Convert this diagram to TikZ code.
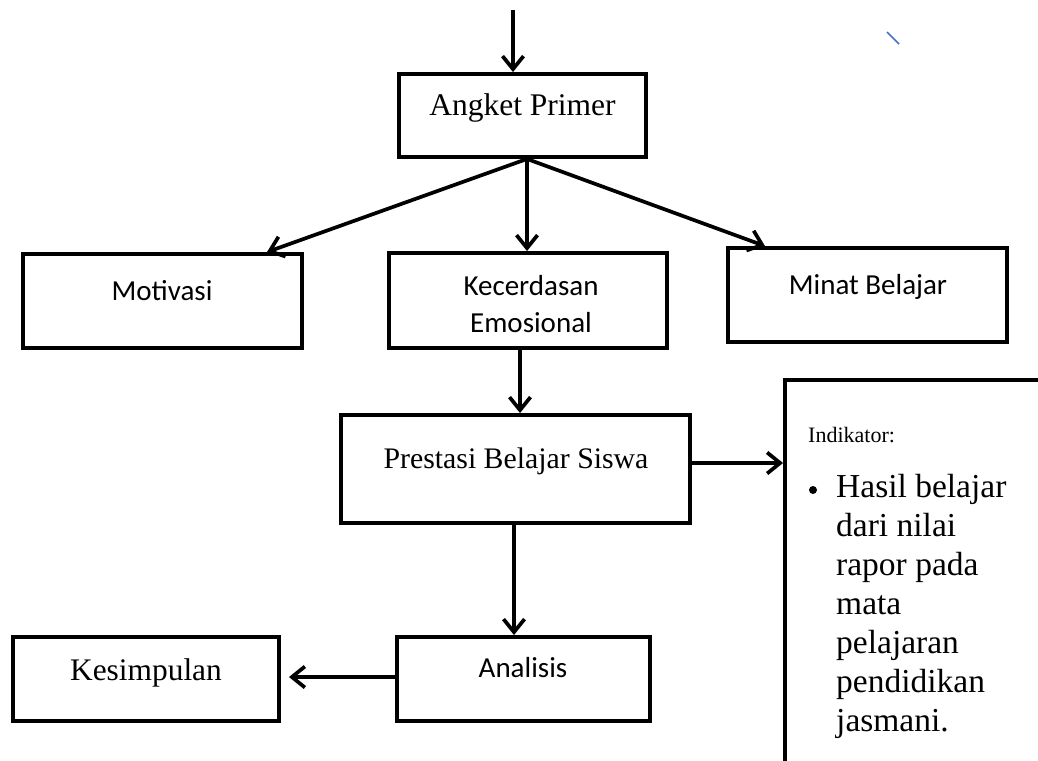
\documentclass[tikz,border=0pt]{standalone}
\usepackage{fontspec}
\setmainfont{Liberation Serif}
\newfontfamily\calibrifont{Carlito}
\usetikzlibrary{arrows.meta}
\definecolor{strayblue}{RGB}{68,114,196}
\begin{document}
\begin{tikzpicture}[x=1pt,y=-1pt,
  box/.style={draw, line width=3.9pt, inner sep=0pt},
  arr/.style={line width=3.7pt, -{Straight Barb[length=13pt,width=21pt]}},
  ser/.style={font=\fontsize{31.5}{37}\selectfont, anchor=base, inner sep=0pt},
  cal/.style={font=\calibrifont\fontsize{29}{35}\selectfont, anchor=base, inner sep=0pt},
  indt/.style={font=\fontsize{33.5}{39}\selectfont, anchor=base west, inner sep=0pt}]
\path[use as bounding box] (0,0) rectangle (1038,760);
\clip (0,0) rectangle (1038,760);

% boxes
\node[box, minimum width=247pt, minimum height=83pt] (ang) at (522.5,115.5) {};
\node[box, minimum width=279pt, minimum height=94pt] (mot) at (162.5,301) {};
\node[box, minimum width=278pt, minimum height=95pt] (kec) at (528,300.5) {};
\node[box, minimum width=279pt, minimum height=94pt] (min) at (867.5,295) {};
\node[box, minimum width=349pt, minimum height=108pt] (pre) at (515.5,469) {};
\node[box, minimum width=253pt, minimum height=84pt] (ana) at (523.5,679) {};
\node[box, minimum width=266pt, minimum height=84pt] (kes) at (146,679) {};
\node[box, minimum width=300pt, minimum height=420pt] (ind) at (935,590) {};

% texts
\node[ser] (tang) at (522.5,115) {Angket Primer};
\node[cal] (tmot) at (162,300) {Motivasi};
\node[cal] (tkec1) at (531,295) {Kecerdasan};
\node[cal] (tkec2) at (531,332) {Emosional};
\node[cal] (tmin) at (868,294) {Minat Belajar};
\node[ser, font=\fontsize{29.8}{35}\selectfont] (tpre) at (516,468) {Prestasi Belajar Siswa};
\node[cal] (tana) at (523,677) {Analisis};
\node[ser, font=\fontsize{31.4}{37}\selectfont] (tkes) at (146,680) {Kesimpulan};
\node[ser, anchor=base west, font=\fontsize{22}{26}\selectfont] (tind) at (808,442) {Indikator:};
\fill (813,490) circle (4pt);
\node[indt] (l1) at (836,497) {Hasil belajar};
\node[indt] (l2) at (836,536) {dari nilai};
\node[indt] (l3) at (836,575) {rapor pada};
\node[indt] (l4) at (836,614) {mata};
\node[indt] (l5) at (836,653) {pelajaran};
\node[indt] (l6) at (836,692) {pendidikan};
\node[indt] (l7) at (836,731) {jasmani.};

% connectors
\coordinate (top) at (513,10);
\draw[arr] (top) -- (top |- ang.north);
\draw[arr] ([xshift=4.5pt]ang.south) -- ([xshift=104.5pt]mot.north);
\draw[arr] ([xshift=4.5pt]ang.south) -- ([xshift=4.5pt]ang.south |- kec.north);
\draw[arr] ([xshift=4.5pt]ang.south) -- ([xshift=-102.5pt]min.north);
\draw[arr] ([xshift=-8pt]kec.south) -- ([xshift=-8pt]kec.south |- pre.north);
\draw[arr] ([yshift=6pt]pre.east) -- ([yshift=6pt]pre.east -| ind.west);
\draw[arr] ([xshift=-1.5pt]pre.south) -- ([xshift=-1.5pt]pre.south |- ana.north);
\draw[arr, shorten >=8pt] ([yshift=2pt]ana.west) -- ([yshift=2pt]ana.west -| kes.east);

% stray mark
\draw[strayblue, line width=1.5pt] (887,32) -- (899,44);
\end{tikzpicture}
\end{document}
